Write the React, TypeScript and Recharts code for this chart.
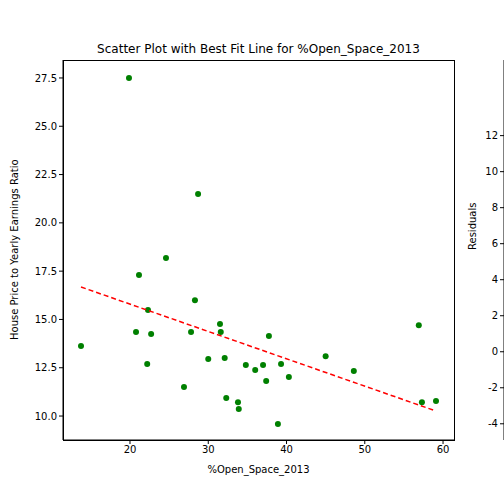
import { Scatter, ScatterChart, XAxis, YAxis } from 'recharts';

const openSpace = [13.74, 19.87, 21.15, 20.77, 22.3, 22.2, 22.7, 24.6, 26.9, 28.3, 28.7, 27.8, 30.0, 31.5, 31.6, 32.1, 32.3, 33.8, 33.9, 34.8, 36.0, 37.0, 37.4, 37.75, 38.9, 39.3, 40.3, 45.0, 48.6, 56.9, 57.3, 59.1];
const priceRatio = [13.63, 27.5, 17.3, 14.35, 15.49, 12.69, 14.25, 18.18, 11.5, 16.0, 21.5, 14.35, 12.95, 14.76, 14.35, 13.0, 10.93, 10.72, 10.36, 12.64, 12.38, 12.64, 11.81, 14.14, 9.59, 12.69, 12.02, 13.1, 12.33, 14.7, 10.72, 10.78];
const fitX = [13.74, 59.1];
const fitY = [16.68, 10.26];
const xTicks = [20, 30, 40, 50, 60];
const yTicks = [10, 12.5, 15, 17.5, 20, 22.5, 25, 27.5];
const residTicks = [-4, -2, 0, 2, 4, 6, 8, 10, 12];

const points = openSpace.map((x, i) => ({ x, y: priceRatio[i] }));
const fitLine = fitX.map((x, i) => ({ x, y: fitY[i] }));
const FONT = 'DejaVu Sans';
const tick = { fontSize: 10, fill: '#000', fontFamily: FONT };

export default function App() {
  return (
    <div style={{ position: 'absolute', left: 0, top: 0, width: 504, height: 504, overflow: 'hidden', background: '#fff' }}>
      <div style={{ position: 'absolute', top: 42, left: 63, width: 391, textAlign: 'center', fontFamily: FONT, fontSize: 12 }}>
        Scatter Plot with Best Fit Line for %Open_Space_2013
      </div>
      <div style={{ position: 'absolute', left: 0, top: 0 }}>
        <ScatterChart width={504} height={504} margin={{ top: 60, right: 50, bottom: 0, left: 0 }}>
          <XAxis type="number" dataKey="x" domain={[11.44, 61.4]} ticks={xTicks} height={64} tick={tick}
            stroke="#000" tickSize={4} allowDataOverflow
            label={{ value: '%Open_Space_2013', position: 'insideTop', offset: 26, fontSize: 10, fill: '#000', fontFamily: FONT }} />
          <YAxis type="number" dataKey="y" domain={[8.76, 28.43]} ticks={yTicks} width={63} tick={tick}
            stroke="#000" tickSize={4} allowDataOverflow tickFormatter={(v: number) => v.toFixed(1)}
            label={{ value: 'House Price to Yearly Earnings Ratio', angle: -90, position: 'insideLeft', offset: 14, dy: 90, fontSize: 10, fill: '#000', fontFamily: FONT }} />
          <Scatter data={points} fill="green" isAnimationActive={false} shape={(p: any) => <circle cx={p.cx} cy={p.cy} r={3} fill="green" />} />
          <Scatter data={fitLine} line={{ stroke: 'red', strokeWidth: 1.5, strokeDasharray: '5 3' }} shape={() => null} isAnimationActive={false} />
        </ScatterChart>
      </div>
      <svg width={504} height={504} style={{ position: 'absolute', left: 0, top: 0, zIndex: 10, pointerEvents: 'none' }}>
        <rect x={63.5} y={60.5} width={391} height={380} fill="none" stroke="#000" strokeWidth={1} />
      </svg>
      <div style={{ position: 'absolute', left: 462, top: 0 }}>
        <ScatterChart width={120} height={504} margin={{ top: 60, right: 10, bottom: 64, left: 0 }}>
          <XAxis type="number" dataKey="x" domain={[0, 1]} hide />
          <YAxis type="number" dataKey="y" domain={[-4.9, 16.2]} ticks={residTicks} width={42} tick={tick}
            stroke="#000" tickSize={4} allowDataOverflow
            label={{ value: 'Residuals', angle: -90, position: 'insideLeft', offset: 10, fontSize: 10, fill: '#000', fontFamily: FONT }} />
          <Scatter data={[]} isAnimationActive={false} />
        </ScatterChart>
      </div>
    </div>
  );
}
